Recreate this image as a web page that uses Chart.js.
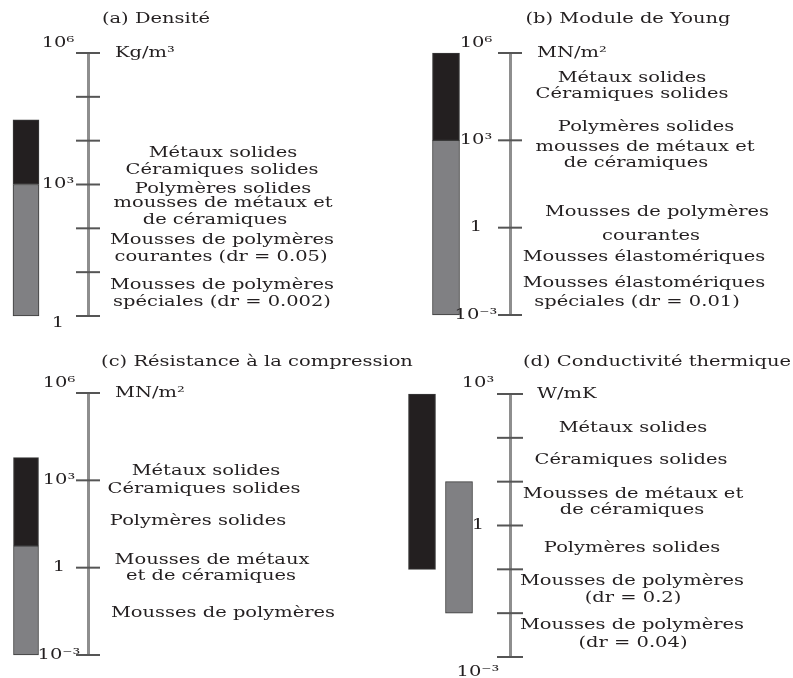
<!DOCTYPE html>
<html lang="fr">
<head>
    <meta charset="UTF-8">
    <title>Propriétés des mousses</title>
    <script src="https://cdn.jsdelivr.net/npm/chart.js"></script>
    <style>
        body {
            margin: 0;
            background: #fff;
        }

        .sheet {
            position: relative;
            width: 793px;
            height: 678px;
        }

        .sheet canvas {
            position: absolute;
            left: 0;
            top: 0;
        }
    </style>
</head>

<body>
    <div class="sheet">
        <canvas id="panelA" width="793" height="678"></canvas>
        <canvas id="panelB" width="793" height="678"></canvas>
        <canvas id="panelC" width="793" height="678"></canvas>
        <canvas id="panelD" width="793" height="678"></canvas>
    </div>

    <script>
        // ---- data ----
        const titles = ['(a) Densité', '(b) Module de Young', '(c) Résistance à la compression', '(d) Conductivité thermique'];
        const units = ['Kg/m³', 'MN/m²', 'MN/m²', 'W/mK'];

        // (a) densité, kg/m3
        const densiteTicks = [1, 1e1, 1e2, 1e3, 1e4, 1e5, 1e6];
        const densiteTickLabels = ['1', '', '', '10³', '', '', '10⁶'];
        const densiteSolides = [1e3, 3e4];
        const densiteMousses = [1, 1e3];
        const densiteTextes = ['Métaux solides', 'Céramiques solides', 'Polymères solides', 'mousses de métaux et',
            'de céramiques', 'Mousses de polymères', 'courantes (dr = 0.05)', 'Mousses de polymères', 'spéciales (dr = 0.002)'];

        // (b) module de Young, MN/m2
        const youngTicks = [1e-3, 1, 1e3, 1e6];
        const youngTickLabels = ['10⁻³', '1', '10³', '10⁶'];
        const youngSolides = [1e3, 1e6];
        const youngMousses = [1e-3, 1e3];
        const youngTextes = ['Métaux solides', 'Céramiques solides', 'Polymères solides', 'mousses de métaux et',
            'de céramiques', 'Mousses de polymères', 'courantes', 'Mousses élastomériques', 'Mousses élastomériques',
            'spéciales (dr = 0.01)'];

        // (c) résistance à la compression, MN/m2
        const compressionTicks = [1e-3, 1, 1e3, 1e6];
        const compressionTickLabels = ['10⁻³', '1', '10³', '10⁶'];
        const compressionSolides = [5.6, 6e3];
        const compressionMousses = [1e-3, 5.6];
        const compressionTextes = ['Métaux solides', 'Céramiques solides', 'Polymères solides', 'Mousses de métaux',
            'et de céramiques', 'Mousses de polymères'];

        // (d) conductivité thermique, W/mK
        const conductiviteTicks = [1e-3, 1e-2, 1e-1, 1, 1e1, 1e2, 1e3];
        const conductiviteTickLabels = ['10⁻³', '', '', '1', '', '', '10³'];
        const conductiviteSolides = [1e-1, 1e3];
        const conductiviteMousses = [1e-2, 1e1];
        const conductiviteTextes = ['Métaux solides', 'Céramiques solides', 'Mousses de métaux et', 'de céramiques',
            'Polymères solides', 'Mousses de polymères', '(dr = 0.2)', 'Mousses de polymères', '(dr = 0.04)'];

        // ---- layout (page pixels, text rows as exponents on the axis) ----
        const W = 793, H = 678;
        const INK = '#231f20';
        const SOLID = '#231f20';
        const FOAM = '#808083';
        const FONT = '14px "DejaVu Serif", serif';
        const STRETCH = 1.39;

        const layoutA = {
            top: 53, bottom: 316, axisX: 88, tickHalf: 12, solidX: 26, foamX: 26, barW: 26,
            titleX: 156, titleY: 19, unitX: 115, labelX: 58, labelDy: [7, 0, -10],
            rows: [[223, 3.70], [222, 3.33], [223, 2.90], [223, 2.56], [215, 2.19], [222, 1.73], [221, 1.33], [222, 0.71], [222, 0.32]]
        };
        const layoutB = {
            top: 53, bottom: 315, axisX: 510, tickHalf: 12, solidX: 446, foamX: 446, barW: 27,
            titleX: 628, titleY: 19, unitX: 537, labelX: 476, labelDy: [0, 0, -10],
            rows: [[632, 5.14], [632, 4.58], [646, 3.43], [645, 2.77], [636, 2.22], [657, 0.51], [651, -0.29], [644, -1.01], [644, -1.93], [637, -2.55]]
        };
        const layoutC = {
            top: 393, bottom: 655, axisX: 88, tickHalf: 12, solidX: 26, foamX: 26, barW: 25,
            titleX: 257, titleY: 362, unitX: 115, labelX: 59, labelDy: [0, 0, -10],
            rows: [[206, 3.30], [204, 2.70], [198, 1.58], [212, 0.26], [211, -0.31], [223, -1.57]]
        };
        const layoutD = {
            top: 394, bottom: 657, axisX: 510, tickHalf: 13, solidX: 422, foamX: 459, barW: 27,
            titleX: 657, titleY: 362, unitX: 537, labelX: 478, labelDy: [15, 0, -11],
            rows: [[633, 2.22], [631, 1.48], [633, 0.72], [632, 0.34], [632, -0.52], [632, -1.28], [633, -1.66], [632, -2.27], [633, -2.68]]
        };

        // titles, units, tick labels and the material names beside each axis
        const panelText = {
            id: 'panelText',
            afterDraw(chart, args, opts) {
                const ctx = chart.ctx;
                const y = chart.scales.y;
                const p = opts.layout;
                const put = (text, x, py, align) => {
                    ctx.save();
                    ctx.translate(x, py);
                    ctx.scale(STRETCH, 1);
                    ctx.textAlign = align;
                    ctx.fillText(text, 0, 0);
                    ctx.restore();
                };
                ctx.save();
                ctx.font = FONT;
                ctx.fillStyle = INK;
                ctx.textBaseline = 'middle';
                put(opts.title, p.titleX, p.titleY, 'center');
                put(opts.unit, p.unitX, y.top, 'left');
                const last = y.ticks.length - 1;
                y.ticks.forEach((t, i) => {
                    const label = opts.tickLabels[i];
                    if (!label) return;
                    const dy = i === 0 ? p.labelDy[0] : (i === last ? p.labelDy[2] : p.labelDy[1]);
                    put(label, p.labelX, y.getPixelForValue(t.value) + dy, 'center');
                });
                opts.lines.forEach((t, i) => {
                    const [cx, e] = p.rows[i];
                    put(t, cx, y.getPixelForValue(Math.pow(10, e)), 'center');
                });
                ctx.restore();
            }
        };

        function buildPanel(id, n, p, ticks, tickLabels, solides, mousses, textes) {
            const barStyle = {
                barThickness: p.barW,
                grouped: false,
                borderColor: '#3a3a3a',
                borderWidth: 1,
                borderSkipped: false,
                clip: false
            };
            return new Chart(document.getElementById(id), {
                type: 'bar',
                data: {
                    datasets: [
                        {
                            type: 'scatter',
                            label: 'graduations',
                            data: ticks.map(v => ({ x: p.axisX, y: v })),
                            pointStyle: 'line',
                            pointRadius: p.tickHalf,
                            pointHoverRadius: p.tickHalf,
                            pointBorderColor: '#555555',
                            pointBorderWidth: 2,
                            clip: false
                        },
                        Object.assign({
                            label: 'solides',
                            data: [{ x: p.solidX, y: solides }],
                            backgroundColor: SOLID
                        }, barStyle),
                        Object.assign({
                            label: 'mousses',
                            data: [{ x: p.foamX, y: mousses }],
                            backgroundColor: FOAM
                        }, barStyle)
                    ]
                },
                options: {
                    responsive: false,
                    animation: false,
                    events: [],
                    layout: {
                        autoPadding: false,
                        padding: { top: p.top, bottom: H - p.bottom, left: 0, right: 0 }
                    },
                    plugins: {
                        legend: { display: false },
                        tooltip: { enabled: false },
                        panelText: { title: titles[n], unit: units[n], lines: textes, tickLabels: tickLabels, layout: p }
                    },
                    scales: {
                        x: {
                            type: 'linear', min: 0, max: W, offset: false, bounds: 'data',
                            grid: { offset: false }, display: false
                        },
                        y: {
                            type: 'logarithmic',
                            min: ticks[0],
                            max: ticks[ticks.length - 1],
                            position: { x: p.axisX },
                            afterBuildTicks: s => { s.ticks = ticks.map(v => ({ value: v })); },
                            grid: { display: false, drawTicks: false },
                            border: { display: true, color: '#8e8e8e', width: 3 },
                            ticks: { display: false }
                        }
                    }
                },
                plugins: [panelText]
            });
        }

        buildPanel('panelA', 0, layoutA, densiteTicks, densiteTickLabels, densiteSolides, densiteMousses, densiteTextes);
        buildPanel('panelB', 1, layoutB, youngTicks, youngTickLabels, youngSolides, youngMousses, youngTextes);
        buildPanel('panelC', 2, layoutC, compressionTicks, compressionTickLabels, compressionSolides, compressionMousses, compressionTextes);
        buildPanel('panelD', 3, layoutD, conductiviteTicks, conductiviteTickLabels, conductiviteSolides, conductiviteMousses, conductiviteTextes);
    </script>
</body>

</html>
